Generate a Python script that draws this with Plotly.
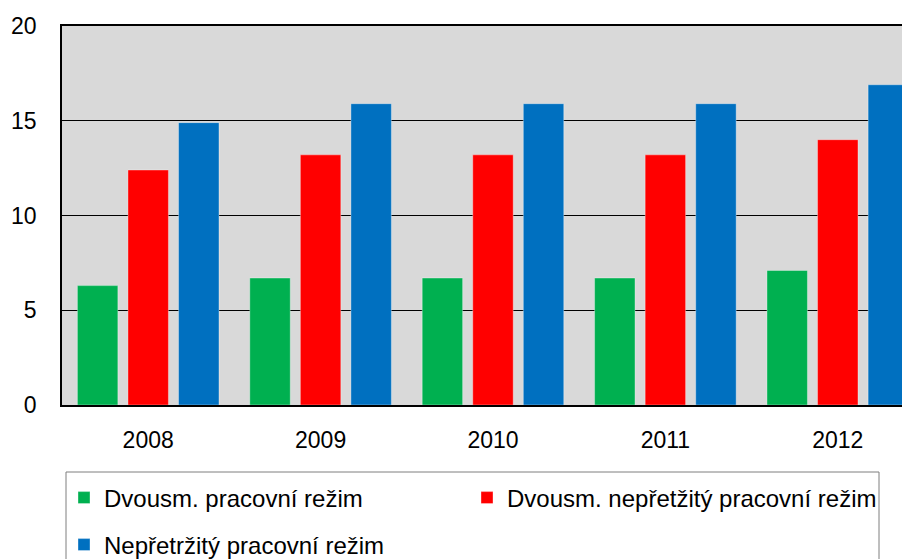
import plotly.graph_objects as go

years = ["2008", "2009", "2010", "2011", "2012"]
dvousm_pracovni = [6.3, 6.7, 6.7, 6.7, 7.1]
dvousm_nepretrzity = [12.4, 13.2, 13.2, 13.2, 14.0]
nepretrzity = [14.9, 15.9, 15.9, 15.9, 16.9]

series_names = ["Dvousm. pracovní režim", "Dvousm. nepřetžitý pracovní režim", "Nepřetržitý pracovní režim"]
series_colors = ["#00B050", "#FF0000", "#0070C0"]

FONT = "Liberation Sans"
OFF = 8  # page body margin
W, H = 910 - OFF, 559 - OFF
# target page pixels of plot area: left 62, top 26, right 910, bottom 405
ML, MT = 62 - OFF, 26 - OFF
MR = 0
MB = H - (405 - OFF)
PW = W - ML - MR
PH = H - MT - MB

def px_x(p):
    return (p - OFF - ML) / PW

def px_y(p):
    return (H - MB - (p - OFF)) / PH

fig = go.Figure()
for i, (name, vals, col) in enumerate(zip(series_names, [dvousm_pracovni, dvousm_nepretrzity, nepretrzity], series_colors)):
    fig.add_trace(go.Bar(
        x=years, y=vals, name=name,
        marker=dict(color=col, line=dict(color="rgba(255,255,255,0.35)", width=1)),
        legend=["legend", "legend2", "legend3"][i],
    ))

leg_common = dict(font=dict(family=FONT, size=24, color="black"), bgcolor="rgba(0,0,0,0)",
                  borderwidth=0, xanchor="left", yanchor="middle", orientation="h")

fig.update_layout(
    width=W, height=H,
    margin=dict(l=ML, r=MR, t=MT, b=MB, autoexpand=False),
    paper_bgcolor="white",
    plot_bgcolor="#D9D9D9",
    barmode="group",
    bargap=0.12,
    bargroupgap=0.2,
    font=dict(family=FONT, size=23, color="black"),
    showlegend=True,
    legend=dict(x=px_x(64), y=px_y(498), **leg_common),
    legend2=dict(x=px_x(467), y=px_y(498), **leg_common),
    legend3=dict(x=px_x(64), y=px_y(545), **leg_common),
    xaxis=dict(
        type="category",
        range=[-0.5, 4.419],
        showline=True, linecolor="black", linewidth=1.5, mirror=True,
        showgrid=False, ticks="", ticklabelstandoff=14,
        tickfont=dict(family=FONT, size=23, color="black"),
    ),
    yaxis=dict(
        range=[0, 20], dtick=5,
        showline=True, linecolor="black", linewidth=1.5,
        showgrid=True, gridcolor="black", gridwidth=1,
        zeroline=False, ticks="", ticklabelstandoff=19,
        tickfont=dict(family=FONT, size=23, color="black"),
    ),
    shapes=[dict(
        type="rect", xref="paper", yref="paper",
        x0=px_x(66), x1=px_x(879), y0=px_y(472), y1=px_y(600),
        line=dict(color="#7f7f7f", width=1), fillcolor="rgba(0,0,0,0)",
    )],
)

fig.write_html("out.html")
